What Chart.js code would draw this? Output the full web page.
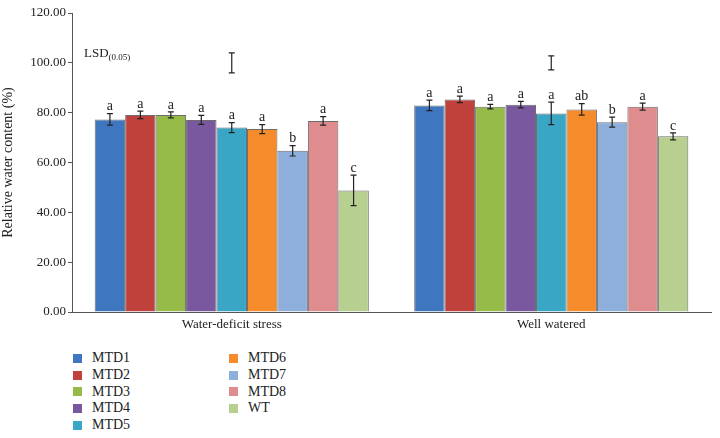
<!DOCTYPE html>
<html lang="en">
<head>
    <meta charset="UTF-8">
    <title>Relative water content</title>
    <script src="https://cdn.jsdelivr.net/npm/chart.js"></script>
    <style>
        body { margin: 0; background: #fff; font-family: "Liberation Serif", "DejaVu Serif", serif; }
        #wrap { position: relative; width: 720px; height: 438px; }
        #chartBox { position: absolute; left: 0; top: 0; width: 720px; height: 340px; }
        #legend { position: absolute; left: 70px; top: 350px; display: grid; grid-template-columns: 156px 120px;
                  grid-template-rows: repeat(5, 16.7px); grid-auto-flow: column; font-size: 14px; color: #222; }
        .item { display: flex; align-items: center; }
        .sw { width: 9px; height: 9px; margin-right: 10px; margin-left: 3px; }
    </style>
</head>
<body>
<div id="wrap">
    <div id="chartBox"><canvas id="rwcChart"></canvas></div>
    <div id="legend"></div>
</div>
<script>
    // Data
    const groups = ['Water-deficit stress', 'Well watered'];
    const lines = ['MTD1', 'MTD2', 'MTD3', 'MTD4', 'MTD5', 'MTD6', 'MTD7', 'MTD8', 'WT'];
    const colors = ['#3f76c0', '#c0403c', '#97bb48', '#7a58a0', '#38a6c4', '#f68b2c', '#8eaedc', '#de8c8e', '#b8d08f'];

    const stressValues = [77.3, 79.1, 79.1, 77.1, 74.0, 73.4, 64.7, 76.7, 48.8];
    const wateredValues = [82.9, 85.3, 82.4, 83.2, 79.7, 81.3, 76.2, 82.4, 70.5];
    const stressErr = [2.3, 1.5, 1.2, 1.8, 2.0, 1.8, 2.1, 1.7, 6.1];
    const wateredErr = [2.1, 1.3, 0.9, 1.3, 4.5, 2.3, 2.0, 1.4, 1.4];
    const stressLetters = ['a', 'a', 'a', 'a', 'a', 'a', 'b', 'a', 'c'];
    const wateredLetters = ['a', 'a', 'a', 'a', 'a', 'ab', 'b', 'a', 'c'];

    const lsdCenter = [100, 100];
    const lsdHalf = [4.0, 2.8];

    const yTicks = [0, 20, 40, 60, 80, 100, 120];

    const datasets = lines.map((name, i) => ({
        label: name,
        data: [stressValues[i], wateredValues[i]],
        err: [stressErr[i], wateredErr[i]],
        letters: [stressLetters[i], wateredLetters[i]],
        backgroundColor: colors[i],
        borderColor: 'rgba(60,60,60,0.75)',
        borderWidth: 1,
        borderSkipped: 'bottom'
    }));

    // error bars, significance letters and the LSD markers
    const annotations = {
        id: 'annotations',
        afterDatasetsDraw(chart) {
            const ctx = chart.ctx;
            const y = chart.scales.y;
            const x = chart.scales.x;
            ctx.save();
            ctx.strokeStyle = '#222';
            ctx.lineWidth = 1.2;
            ctx.fillStyle = '#222';
            ctx.font = '14px "Liberation Serif", serif';
            ctx.textAlign = 'center';
            ctx.textBaseline = 'bottom';
            chart.data.datasets.forEach((ds, di) => {
                const meta = chart.getDatasetMeta(di);
                meta.data.forEach((bar, j) => {
                    const hi = y.getPixelForValue(ds.data[j] + ds.err[j]);
                    const lo = y.getPixelForValue(ds.data[j] - ds.err[j]);
                    ctx.beginPath();
                    ctx.moveTo(bar.x, hi); ctx.lineTo(bar.x, lo);
                    ctx.moveTo(bar.x - 3, hi); ctx.lineTo(bar.x + 3, hi);
                    ctx.moveTo(bar.x - 3, lo); ctx.lineTo(bar.x + 3, lo);
                    ctx.stroke();
                    ctx.fillText(ds.letters[j], bar.x, hi);
                });
            });
            groups.forEach((g, j) => {
                const cx = x.getPixelForValue(j);
                const hi = y.getPixelForValue(lsdCenter[j] + lsdHalf[j]);
                const lo = y.getPixelForValue(lsdCenter[j] - lsdHalf[j]);
                ctx.beginPath();
                ctx.moveTo(cx, hi); ctx.lineTo(cx, lo);
                ctx.moveTo(cx - 3, hi); ctx.lineTo(cx + 3, hi);
                ctx.moveTo(cx - 3, lo); ctx.lineTo(cx + 3, lo);
                ctx.stroke();
            });
            // LSD label
            const lx = chart.chartArea.left + 12;
            const ly = y.getPixelForValue(102.5);
            ctx.font = '13px "Liberation Serif", serif';
            ctx.textAlign = 'left';
            ctx.textBaseline = 'alphabetic';
            ctx.fillText('LSD', lx, ly);
            const w = ctx.measureText('LSD').width;
            ctx.font = '9px "Liberation Serif", serif';
            ctx.fillText('(0.05)', lx + w, ly + 3);
            ctx.restore();
        }
    };

    new Chart(document.getElementById('rwcChart'), {
        type: 'bar',
        data: { labels: groups, datasets: datasets },
        options: {
            responsive: true,
            maintainAspectRatio: false,
            animation: false,
            layout: { padding: { top: 13, right: 9, left: 0, bottom: 0 } },
            plugins: { legend: { display: false }, tooltip: { enabled: false } },
            datasets: { bar: { categoryPercentage: 0.858, barPercentage: 1 } },
            scales: {
                x: {
                    grid: { display: false, drawTicks: false },
                    border: { color: '#555', width: 1 },
                    ticks: { color: '#222', font: { family: '"Liberation Serif", serif', size: 13 }, padding: 5 },
                    afterFit(scale) { scale.height = 28; }
                },
                y: {
                    min: 0, max: 120,
                    afterBuildTicks(scale) { scale.ticks = yTicks.map(v => ({ value: v })); },
                    grid: { drawOnChartArea: false, drawTicks: true, tickLength: 4, color: '#555' },
                    border: { color: '#555', width: 1 },
                    ticks: { color: '#222', font: { family: '"Liberation Serif", serif', size: 13 }, padding: 2,
                             callback: v => v.toFixed(2) },
                    title: { display: true, text: 'Relative water content (%)', color: '#222',
                             font: { family: '"Liberation Serif", serif', size: 14 }, padding: 0 },
                    afterFit(scale) { scale.width = 72; }
                }
            }
        },
        plugins: [annotations]
    });

    // legend in two columns, filled top to bottom
    const legend = document.getElementById('legend');
    lines.forEach((name, i) => {
        const item = document.createElement('div');
        item.className = 'item';
        item.innerHTML = '<span class="sw" style="background:' + colors[i] + '"></span>' + name;
        legend.appendChild(item);
    });
</script>
</body>
</html>
